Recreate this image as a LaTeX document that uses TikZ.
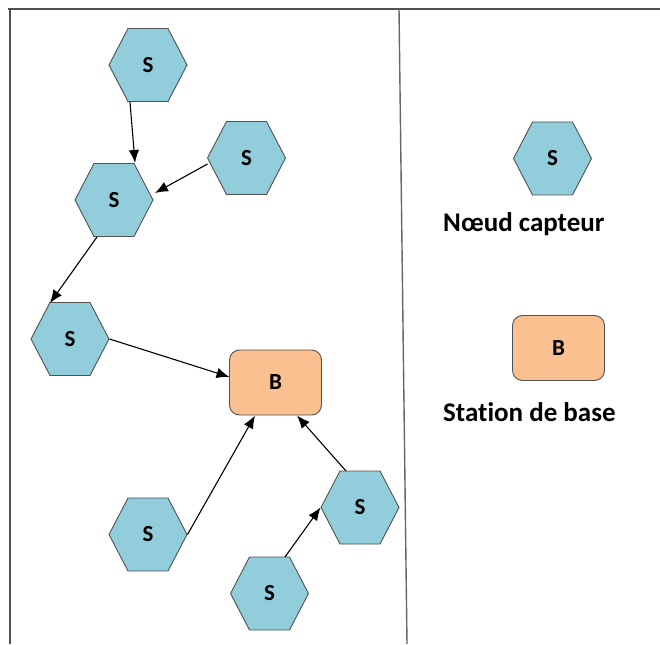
\documentclass[tikz,border=0pt]{standalone}
\usepackage{fontspec}
\setmainfont{Carlito}[Ligatures=NoCommon]
\usetikzlibrary{shapes.symbols,arrows.meta,calc}
\definecolor{hexfill}{HTML}{92CDDC}
\definecolor{basefill}{HTML}{FAC090}
\definecolor{edgegray}{HTML}{505050}
\begin{document}
\begin{tikzpicture}[x=1pt,y=-1pt,
  hex/.style={shape=signal, signal to=west and east, signal pointer angle=125,
    minimum width=78pt, minimum height=73pt, inner sep=0pt, draw=edgegray, fill=hexfill,
    line width=0.9pt, font=\fontsize{23}{24}\selectfont\bfseries},
  basebox/.style={rectangle, rounded corners=10pt, minimum width=92pt, minimum height=65pt,
    draw=edgegray, fill=basefill, line width=0.9pt, font=\fontsize{23}{24}\selectfont\bfseries},
  legendtext/.style={anchor=west, inner sep=0pt, font=\fontsize{27}{28}\selectfont\bfseries},
  link/.style={draw=black, line width=1.1pt, -{Latex[length=13pt,width=10.5pt]}},
  frame/.style={draw=edgegray, line width=2pt}]
\useasboundingbox (0,0) rectangle (660,644);
% frame
\draw[frame] (8,9) -- (660,9);
\draw[frame] (10,9) -- (10,644);
\draw[draw=gray!80!black, line width=1.4pt] (399,9) -- (407,644);
% nodes
\node[hex] (h1) at (148,65) {S};
\node[hex] (h2) at (246.5,158) {S};
\node[hex] (h3) at (114,200) {S};
\node[hex] (h4) at (70,339) {S};
\node[basebox] (b) at (275.5,382.5) {B};
\node[hex] (h6) at (148,534.5) {S};
\node[hex] (h7) at (360,507.5) {S};
\node[hex] (h8) at (269.5,593.5) {S};
% legend
\node[hex] (lh) at (552.5,158.5) {S};
\node[legendtext] (lt1) at (443,224) {Nœud capteur};
\node[basebox] (lb) at (558.5,348) {B};
\node[legendtext] (lt2) at (443,412) {Station de base};
% links
\draw[link] ($(h1.center)+(-18,37)$) -- ($(h3.center)+(21,-37)$);
\draw[link] ($(h2.center)+(-39,6)$) -- ($(h3.center)+(41,-7)$);
\draw[link] ($(h3.center)+(-17,37)$) -- ($(h4.center)+(-20,-36)$);
\draw[link] (h4.east) -- ($(b.center)+(-46,-5.5)$);
\draw[link] (h6.east) -- ($(b.center)+(-20.5,33)$);
\draw[link] ($(h7.center)+(-14,-36.5)$) -- ($(b.center)+(21.5,33)$);
\draw[link] ($(h8.center)+(15.5,-36.5)$) -- (h7.west);
\end{tikzpicture}
\end{document}
